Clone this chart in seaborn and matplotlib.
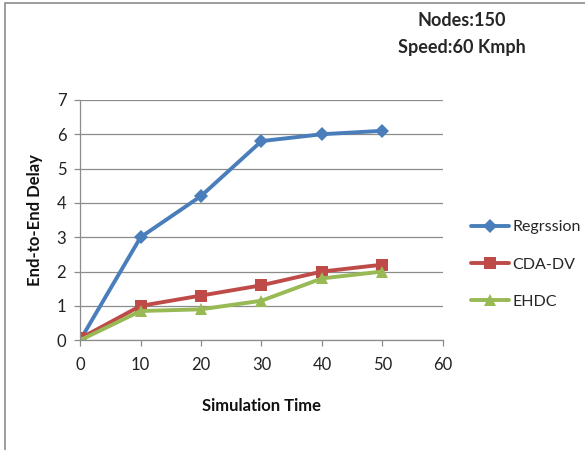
import matplotlib
matplotlib.use("Agg")
import matplotlib.pyplot as plt
import seaborn as sns
import pandas as pd
from matplotlib.patches import Rectangle

sim_time = [0, 10, 20, 30, 40, 50]
regression = [0.0, 3.0, 4.2, 5.8, 6.0, 6.1]
cda_dv = [0.05, 1.0, 1.3, 1.6, 2.0, 2.2]
ehdc = [0.0, 0.85, 0.9, 1.15, 1.8, 2.0]
series_names = ["Regrssion", "CDA-DV", "EHDC"]

sns.set_theme(style="white")
plt.rcParams["font.family"] = ["Lato", "DejaVu Sans"]

df = pd.DataFrame({
    "time": sim_time * 3,
    "delay": regression + cda_dv + ehdc,
    "method": [series_names[0]] * 6 + [series_names[1]] * 6 + [series_names[2]] * 6,
})

palette = {"Regrssion": "#4a7ebb", "CDA-DV": "#be4b48", "EHDC": "#98b954"}
markers = {"Regrssion": "D", "CDA-DV": "s", "EHDC": "^"}
msize = {"Regrssion": 7, "CDA-DV": 8.5, "EHDC": 9}

fig = plt.figure(figsize=(5.85, 4.5), dpi=100)
fig.patches.append(Rectangle((0.008, -0.01), 1.2, 1.003, transform=fig.transFigure,
                             fill=False, edgecolor="#8c8c8c", linewidth=1.2))
ax = fig.add_axes([0.137, 0.244, 0.62, 0.534])

sns.lineplot(data=df, x="time", y="delay", hue="method", style="method",
             palette=palette, markers=markers, dashes=False, linewidth=2.8,
             markersize=8, markeredgewidth=0, ax=ax, legend=False)
for line, name in zip(ax.lines, series_names):
    line.set_markersize(msize[name])

ax.set_xlim(0, 60)
ax.set_ylim(0, 7)
ax.set_xticks(range(0, 61, 10))
ax.set_yticks(range(0, 8))
ax.grid(axis="y", color="#8c8c8c", linewidth=0.9)
for s in ["top", "right"]:
    ax.spines[s].set_visible(False)
for s in ["left", "bottom"]:
    ax.spines[s].set_color("#8c8c8c")
    ax.spines[s].set_linewidth(0.9)
ax.tick_params(axis="both", direction="out", length=4, width=0.9, color="#8c8c8c",
               labelsize=12, labelcolor="#222222", bottom=True, left=True)
ax.tick_params(axis="x", pad=8)
ax.tick_params(axis="y", pad=6)
ax.set_xlabel("Simulation Time", fontsize=12, fontweight="bold", labelpad=18, color="#111111")
ax.set_ylabel("End-to-End Delay", fontsize=12, fontweight="bold", labelpad=10, color="#111111")

fig.text(0.79, 0.955, "Nodes:150", fontsize=13, fontweight="bold", ha="center", va="center")
fig.text(0.79, 0.895, "Speed:60 Kmph", fontsize=13, fontweight="bold", ha="center", va="center")

handles = [plt.Line2D([], [], color=palette[n], marker=markers[n], linewidth=2.8,
                      markersize=msize[n], markeredgewidth=0) for n in series_names]
fig.legend(handles, series_names, loc="center left", bbox_to_anchor=(0.805, 0.412),
           frameon=False, fontsize=11.5, handlelength=2.4, handletextpad=0.2,
           labelspacing=1.45, borderpad=0, borderaxespad=0)

fig.savefig("out.png", dpi=100)
